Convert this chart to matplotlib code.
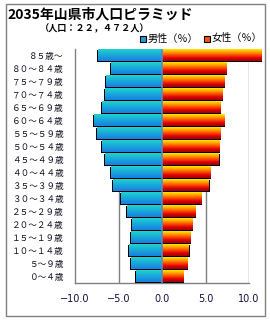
import numpy as np
import matplotlib
matplotlib.use("Agg")
import matplotlib.pyplot as plt
from matplotlib.colors import LinearSegmentedColormap
from matplotlib.patches import Rectangle

plt.rcParams['font.family'] = ['Noto Sans CJK JP', 'DejaVu Sans']

ages = ["０～４歳", "５～９歳", "１０～１４歳", "１５～１９歳", "２０～２４歳",
        "２５～２９歳", "３０～３４歳", "３５～３９歳", "４０～４４歳", "４５～４９歳",
        "５０～５４歳", "５５～５９歳", "６０～６４歳", "６５～６９歳", "７０～７４歳",
        "７５～７９歳", "８０～８４歳", "８５歳～"]
male = [3.0, 3.6, 3.8, 3.6, 3.4, 4.0, 4.7, 5.6, 5.9, 6.6, 6.9, 7.5, 7.85,
        6.9, 6.6, 6.4, 5.9, 7.3]
female = [2.45, 2.9, 3.1, 3.25, 3.5, 3.8, 4.5, 5.4, 5.55, 6.5, 6.6, 6.7, 7.15,
          6.7, 6.9, 7.15, 7.4, 11.4]
xticks = [-10, -5, 0, 5, 10]
xticklabels = ["−10.0", "−5.0", "0.0", "5.0", "10.0"]
title = "2035年山県市人口ピラミッド"
subtitle = "（人口：２２，４７２人）"
legend_labels = ["男性（％）", "女性（％）"]

W, H = 270, 320
fig = plt.figure(figsize=(W / 100, H / 100), dpi=100)
ax = fig.add_axes([75 / W, 1 - 283 / H, (249 - 75) / W, (283 - 49) / H])

cm_m = LinearSegmentedColormap.from_list("m", ["#1a7ee0", "#18a8dc", "#22d2cc"])
cm_f = LinearSegmentedColormap.from_list("f", ["#9a0000", "#e00000", "#ff4a00", "#ffa000", "#ffe800"])
grad = np.linspace(0, 1, 64).reshape(-1, 1)

h = 0.85
dy = 0.08
dx = 0.12
ypos = np.arange(len(ages))
for y, m, f in zip(ypos, male, female):
    ax.add_patch(Rectangle((-m - dx, y - h / 2 - dy), m + dx, h + dy,
                           facecolor="black", edgecolor="none", zorder=3, clip_on=False))
    ax.add_patch(Rectangle((0, y - h / 2 - dy), f + dx, h + dy,
                           facecolor="black", edgecolor="none", zorder=3, clip_on=False))
    ax.imshow(grad, cmap=cm_m, extent=[-m, 0, y - h / 2, y + h / 2], aspect='auto',
              origin='lower', zorder=4, clip_on=False, interpolation='bilinear')
    ax.imshow(grad, cmap=cm_f, extent=[0, f, y - h / 2, y + h / 2], aspect='auto',
              origin='lower', zorder=4, clip_on=False, interpolation='bilinear')

ax.set_xlim(-10, 10)
ax.set_ylim(-0.5, len(ages) - 0.5)
ax.set_xticks(xticks)
ax.set_xticklabels(xticklabels, fontsize=7, color="#101040", family=['DejaVu Sans'])
ax.set_yticks(ypos)
ax.set_yticklabels(ages, fontsize=6.2, color="#101020")
ax.tick_params(length=0, pad=8)
ax.tick_params(axis='y', pad=8)

for xv in [-5, 5, 10]:
    ax.axvline(xv, color="#808080", lw=1, zorder=1)
ax.axvline(0, color="#5b8ac0", lw=1.2, zorder=5)
for s in ["top", "right"]:
    ax.spines[s].set_visible(False)
for s in ["left", "bottom"]:
    ax.spines[s].set_color("#808080")
    ax.spines[s].set_linewidth(1)

fig.text(7 / W, 1 - 14 / H, title, fontsize=10, fontweight="bold", va="center", ha="left")
fig.text(40 / W, 1 - 29 / H, subtitle, fontsize=6.6, fontweight="bold", va="center", ha="left")

sq = 6
for x0, lab, col in [(140, legend_labels[0], "#1aa0dc"), (204, legend_labels[1], "#ff5000")]:
    fig.patches.append(Rectangle((x0 / W, 1 - 42 / H), sq / W, sq / H, transform=fig.transFigure,
                                 facecolor=col, edgecolor="black", lw=0.8))
    fig.text((x0 + 8) / W, 1 - 38.5 / H, lab, fontsize=7.3, va="center", ha="left")

fig.patches.append(Rectangle((6 / W, 4 / H), 259 / W, 312 / H, transform=fig.transFigure,
                             fill=False, edgecolor="#808080", lw=1))

fig.savefig("out.png", dpi=100)
